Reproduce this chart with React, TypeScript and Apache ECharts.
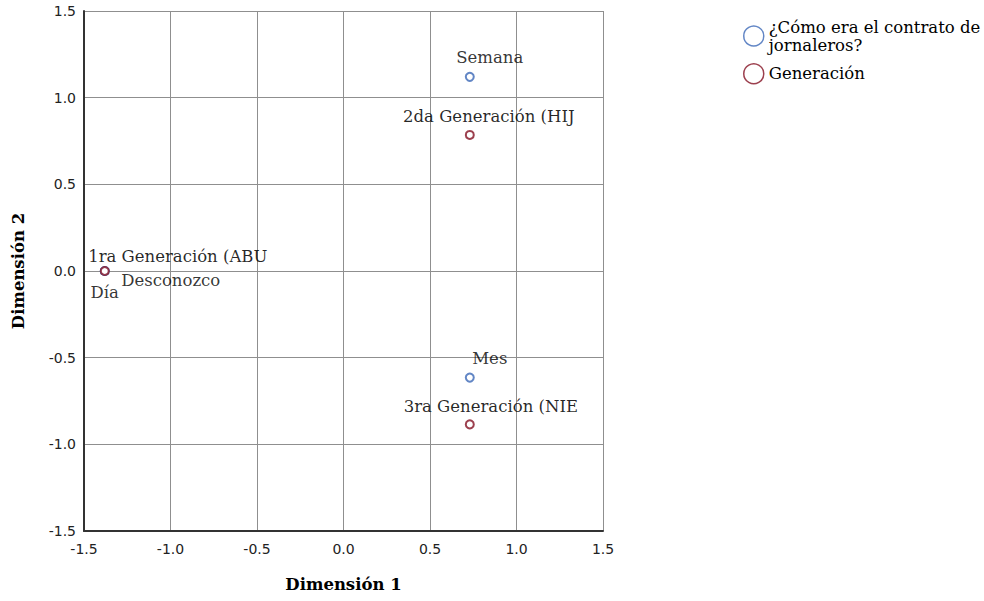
import React, { useEffect, useRef } from "react";
import * as echarts from "echarts";

// ---- Data ----
const contratoName = "¿Cómo era el contrato de jornaleros?";
const contratoCats = ["Día", "Semana", "Mes", "Desconozco"];
const contratoX = [-1.38, 0.73, 0.73, -1.38];
const contratoY = [0.0, 1.12, -0.615, 0.0];

const generacionName = "Generación";
const generacionCats = ["1ra Generación (ABU", "2da Generación (HIJ", "3ra Generación (NIE"];
const generacionX = [-1.38, 0.73, 0.73];
const generacionY = [0.0, 0.785, -0.885];

const axisTicks = [-1.5, -1.0, -0.5, 0.0, 0.5, 1.0, 1.5];

// ---- Styles ----
const BLUE = "#3b68b6";
const RED = "#8b1f2f";
const SERIF = "'DejaVu Serif', serif";
const SANS = "'DejaVu Sans', sans-serif";

const labelOffsets: Record<string, [number, number]> = {
  "Día": [0, 21],
  "Semana": [20, -19],
  "Mes": [20, -19],
  "Desconozco": [66, 9],
  "1ra Generación (ABU": [73, -15],
  "2da Generación (HIJ": [19, -18],
  "3ra Generación (NIE": [21, -18],
};

function buildData(cats: string[], xs: number[], ys: number[]) {
  return cats.map((c, i) => ({
    name: c,
    value: [xs[i], ys[i]],
    label: {
      show: true,
      position: "inside",
      offset: labelOffsets[c],
      formatter: c,
      color: "#000",
      fontFamily: SERIF,
      fontSize: 16.5,
      align: "center",
      verticalAlign: "middle",
    },
  }));
}

export default function App() {
  const ref = useRef<HTMLDivElement>(null);
  useEffect(() => {
    if (!ref.current) return;
    const chart = echarts.init(ref.current, null, { renderer: "svg" });
    const axisCommon = {
      type: "value" as const,
      min: axisTicks[0],
      max: axisTicks[axisTicks.length - 1],
      interval: 0.5,
      axisLine: { show: true, onZero: false, lineStyle: { color: "#333", width: 2 } },
      axisTick: { show: false },
      splitLine: { show: true, lineStyle: { color: "#8f8f8f", width: 1 } },
      axisLabel: {
        color: "#222",
        fontFamily: SANS,
        fontSize: 14,
        formatter: (v: number) => v.toFixed(1),
      },
      nameLocation: "middle" as const,
      nameTextStyle: {
        color: "#000",
        fontFamily: SERIF,
        fontWeight: "bold" as const,
        fontSize: 16.5,
      },
    };
    chart.setOption({
      animation: false,
      backgroundColor: "#fff",
      grid: { left: 84, top: 11, width: 519, height: 520, containLabel: false },
      xAxis: {
        ...axisCommon,
        name: "Dimensión 1",
        nameGap: 45,
        axisLabel: { ...axisCommon.axisLabel, margin: 11 },
      },
      yAxis: {
        ...axisCommon,
        name: "Dimensión 2",
        nameGap: 57,
        axisLabel: { ...axisCommon.axisLabel, margin: 8 },
      },
      legend: {
        orient: "vertical",
        left: 738,
        top: 13,
        itemGap: 9,
        itemWidth: 20,
        itemHeight: 20,
        textStyle: { color: "#000", fontFamily: SERIF, fontSize: 16.5, lineHeight: 18 },
        formatter: (n: string) =>
          n === contratoName ? "¿Cómo era el contrato de\njornaleros?" : n,
        data: [
          {
            name: contratoName,
            icon: "circle",
            itemStyle: { color: "#fff", borderColor: BLUE, borderWidth: 1.5 },
          },
          {
            name: generacionName,
            icon: "circle",
            itemStyle: { color: "#fff", borderColor: RED, borderWidth: 1.5 },
          },
        ],
      },
      series: [
        {
          type: "scatter",
          name: contratoName,
          symbol: "emptyCircle",
          symbolSize: 8,
          itemStyle: { color: BLUE, borderColor: BLUE, borderWidth: 1.5 },
          data: buildData(contratoCats, contratoX, contratoY),
        },
        {
          type: "scatter",
          name: generacionName,
          symbol: "emptyCircle",
          symbolSize: 8,
          itemStyle: { color: RED, borderColor: RED, borderWidth: 1.5, opacity: 0.85 },
          data: buildData(generacionCats, generacionX, generacionY),
        },
      ],
    });
    return () => chart.dispose();
  }, []);
  return (
    <div
      ref={ref}
      style={{ position: "fixed", left: 0, top: 0, width: 984, height: 601, background: "#fff" }}
    />
  );
}
